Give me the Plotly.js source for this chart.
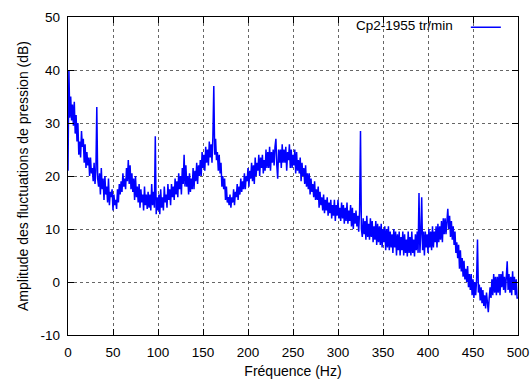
<!DOCTYPE html>
<html>
<head>
<meta charset="utf-8">
<script src="https://cdn.plot.ly/plotly-3.0.1.min.js"></script>
<style>html,body{margin:0;padding:0;background:#fff;}#chart{width:531px;height:379px;}</style>
</head>
<body>
<div id="chart"></div>
<script>
// Frequency axis: 0..500 Hz, 1 Hz step
const freqStart = 0;
const freqStep = 1;
const seriesName = "Cp2-1955 tr/min";
const xTicks = [0, 50, 100, 150, 200, 250, 300, 350, 400, 450, 500];
const yTicks = [-10, 0, 10, 20, 30, 40, 50];
const yTickText = ["-10", "0", "10", "20", "30", "40", "50"];
// Amplitude (dB), one value per Hz
const amplitude = [
  21, 40, 31, 35, 30.5, 33.5, 29.5, 34, 28, 31.5,
  26.5, 30, 24, 26.5, 23.5, 28.5, 25.5, 27, 22.5, 26,
  21.5, 24.5, 22, 23.5, 20, 23.5, 20.5, 21.5, 19, 22.5,
  18.5, 21, 33, 19.5, 18, 20.5, 16.5, 21.5, 17.5, 19.5,
  15.5, 20, 16.5, 18, 15, 19.5, 14.5, 17, 16, 17.5,
  13.5, 16.5, 14.5, 15.5, 13.8, 17.5, 15, 18.5, 16.5, 19,
  17, 20.5, 18, 19.5, 17.5, 21.5, 19, 23, 18.5, 22,
  17.5, 20.5, 17, 19.5, 15.5, 20, 16, 18, 15, 18.5,
  14, 17.5, 15, 16.5, 13.5, 18, 14.5, 16.5, 13.8, 17,
  14, 16.5, 13.5, 18.5, 14.5, 17, 14, 27.5, 12.8, 16,
  13.5, 16.5, 12.8, 17.5, 14, 16, 13.5, 18, 15, 16.5,
  14, 18.5, 15.5, 17.5, 14.5, 18.5, 16, 18, 15.5, 19.5,
  16.5, 19, 16, 20.5, 17.5, 20, 16.5, 21.5, 18.5, 24,
  18, 22, 18, 20, 16.5, 20.5, 17, 19.5, 17.5, 21.5,
  17.5, 21, 19, 22.5, 18.5, 22, 20, 23, 20, 24.5,
  21.5, 24, 21, 25.5, 22.5, 25, 22, 26.5, 23.5, 26,
  22.5, 27.5, 37, 24, 27, 23, 24.5, 21, 24, 20.5,
  22.5, 18, 20, 17.5, 19.5, 15.5, 18, 15, 16, 14.5,
  16.5, 14, 16, 15, 17.5, 14.5, 17, 16, 18.5, 15.5,
  18, 16.5, 19.5, 17, 19, 17.5, 20.5, 17.5, 20, 19,
  21.5, 18, 21, 19.5, 22.5, 19, 22, 18.5, 23.5, 20,
  22.5, 21, 24, 20, 23.5, 21.5, 24, 20.5, 23, 21,
  25, 21.5, 24.5, 21.5, 25.5, 21, 24.5, 22.5, 25, 22,
  25.5, 27, 22, 19.5, 25, 22.5, 25, 21.5, 26, 22.5,
  25, 22.5, 25.5, 21, 24.5, 23, 26, 21.5, 25, 21.5,
  24, 22, 25, 20.5, 24.5, 21, 23, 20.5, 23.5, 19,
  22.5, 20, 21.5, 18.5, 22, 18, 20.5, 17.5, 20.5, 16.5,
  19.5, 17, 18.5, 16, 19, 15.5, 17.5, 15.5, 18, 14,
  17, 14.5, 16, 13.5, 16.5, 13, 15.5, 13.5, 16, 12.5,
  15, 13, 15.5, 12, 14.5, 12.5, 15.5, 11.5, 14.5, 12.5,
  15.5, 12, 14, 11.5, 15, 12, 14.5, 11, 14, 11.5,
  15, 11, 13.5, 11.5, 14.5, 10.5, 14, 10, 13, 11,
  13.5, 10.5, 12.5, 9.5, 13.5, 28.5, 10, 8.5, 12, 9,
  11.5, 8, 12.5, 8.5, 11, 8, 12, 8.5, 11.5, 7.5,
  10.5, 8, 11.5, 7, 11, 7.5, 10.5, 7, 11, 6.5,
  10, 7.5, 10.5, 6, 10, 6.5, 10.5, 6, 9.5, 6.5,
  9, 5.5, 10, 6.5, 9.5, 5, 9, 6, 9.5, 5,
  8.5, 6, 9.5, 5, 9, 5.5, 8, 4.8, 9.5, 5.5,
  8.5, 5, 9.5, 5.5, 8, 4.8, 9, 6, 9.5, 5.5,
  16.8, 5.5, 9, 16, 6, 9.5, 5, 9.5, 6.5, 9,
  5.5, 10, 6.5, 9.5, 6, 10.5, 6.5, 9.5, 7.5, 10.5,
  6.5, 11, 7.5, 10.5, 8, 11.5, 7.5, 12, 9, 12,
  9, 13, 13.8, 10, 12.5, 8.5, 11.5, 8, 10.5, 7,
  9.5, 5.5, 7.5, 4.5, 7, 2.5, 6, 2, 4.5, 1,
  4, 0.5, 2.5, 0, 3, -1, 1.5, -1.5, 1.5, -2.5,
  0.5, -3, 0, -2.5, 0.5, 8, -2, -0.5, -3.5, -1,
  -4, -1.5, -4.5, -2.5, -5, -2, -5, -5.7, -3, -1,
  -3, 0.5, -2.5, 1.5, -2, 1, -2.5, 1, -2, 1.5,
  -2.5, 1.5, -1, 2, -1.5, 1, -2, 1.5, 3.9, -1.5,
  1.5, -2, 1, -2.5, 2, -1.5, 1, -2.5, 0.5, -3,
  -3
];

const tickFont = {family: '"Liberation Sans", Arial, sans-serif', size: 13.5, color: '#000'};
const titleFont = {family: '"Liberation Sans", Arial, sans-serif', size: 14, color: '#000'};
const axisCommon = {
  showline: true, linecolor: '#000', linewidth: 1.2, mirror: 'ticks',
  ticks: 'inside', ticklen: 6, tickcolor: '#000', tickwidth: 1,
  showgrid: true, gridcolor: '#666', griddash: 'dot', gridwidth: 1,
  zeroline: false, tickfont: tickFont
};

const trace = {
  x0: freqStart, dx: freqStep, y: amplitude,
  type: 'scatter', mode: 'lines', name: ' ',
  line: {color: '#0000ff', width: 1.5}
};

const layout = {
  width: 531, height: 379,
  margin: {l: 68, r: 13, t: 15, b: 44},
  paper_bgcolor: '#fff', plot_bgcolor: '#fff',
  font: tickFont,
  showlegend: true,
  legend: {x: 0.993, xanchor: 'right', y: 1.016, yanchor: 'top', bgcolor: 'rgba(0,0,0,0)',
           font: tickFont, itemwidth: 30, tracegroupgap: 0},
  xaxis: Object.assign({}, axisCommon, {
    range: [0, 500], tickvals: xTicks, ticklabelstandoff: 5,
    title: {text: 'Fréquence (Hz)', font: titleFont, standoff: 6}
  }),
  yaxis: Object.assign({}, axisCommon, {
    range: [-10, 50], tickvals: yTicks, ticktext: yTickText, tickmode: 'array', ticklabelstandoff: 4,
    title: {text: 'Amplitude des fluctuations de pression (dB)', font: titleFont, standoff: 8}
  }),
  annotations: [{
    xref: 'paper', yref: 'paper', x: 0.86, y: 0.972, xanchor: 'right', yanchor: 'middle',
    text: seriesName, showarrow: false, font: tickFont
  }]
};

Plotly.newPlot('chart', [trace], layout, {displayModeBar: false, staticPlot: true});
</script>
</body>
</html>
